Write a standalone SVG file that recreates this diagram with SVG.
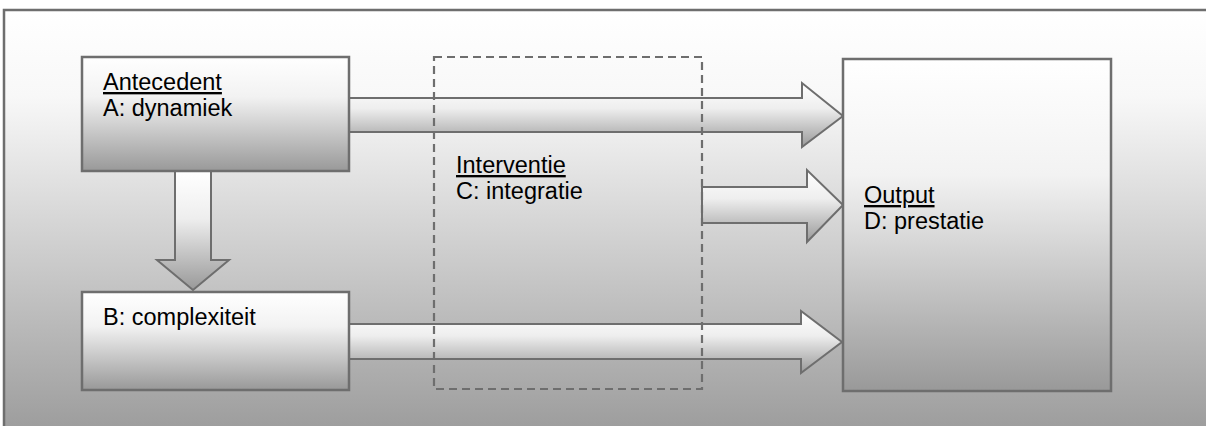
<svg xmlns="http://www.w3.org/2000/svg" width="1206" height="426" viewBox="0 0 1206 426">
<defs>
<linearGradient id="bg" x1="0" y1="0" x2="0" y2="1">
<stop offset="0" stop-color="#ffffff"/>
<stop offset="0.2" stop-color="#f8f8f8"/>
<stop offset="1" stop-color="#9a9a9a"/>
</linearGradient>
<linearGradient id="box" x1="0" y1="0" x2="0" y2="1">
<stop offset="0" stop-color="#ffffff"/>
<stop offset="0.35" stop-color="#f2f2f2"/>
<stop offset="1" stop-color="#999999"/>
</linearGradient>
<linearGradient id="arr" x1="0" y1="0" x2="0" y2="1">
<stop offset="0" stop-color="#ffffff"/>
<stop offset="0.4" stop-color="#eeeeee"/>
<stop offset="1" stop-color="#999999"/>
</linearGradient>
</defs>
<style>
.frame{fill:url(#bg);stroke:#6e6e6e;stroke-width:2.5}
.node{fill:url(#box);stroke:#6e6e6e;stroke-width:2.5}
.dash{fill:none;stroke:#6e6e6e;stroke-width:2.2;stroke-dasharray:8 5}
.arrow{fill:url(#arr);stroke:#6e6e6e;stroke-width:2}
text{font-family:"Liberation Sans",Arial,sans-serif;font-size:23.5px;fill:#000}
.u{text-decoration:underline}
</style>
<rect class="frame" x="4" y="10" width="1214" height="430"/>
<g id="connectors">
<polygon class="arrow" points="349,98 802,98 802,83 843,116 802,147 802,132 349,132"/>
<polygon class="arrow" points="702,187 807,187 807,170 843,205 807,242 807,223 702,223"/>
<polygon class="arrow" points="349,324 801,324 801,311 842,342 801,373 801,359 349,359"/>
<polygon class="arrow" points="175,171 211,171 211,260 229,260 193,290 157,260 175,260"/>
</g>
<g id="antecedent">
<rect class="node" x="82" y="57" width="267" height="114"/>
<text x="103" y="90" class="u">Antecedent</text>
<text x="103" y="116">A: dynamiek</text>
</g>
<g id="complexiteit">
<rect class="node" x="82" y="292" width="267" height="98"/>
<text x="103" y="325">B: complexiteit</text>
</g>
<g id="interventie">
<rect class="dash" x="434" y="57" width="268" height="332"/>
<text x="456" y="173" class="u">Interventie</text>
<text x="456" y="199">C: integratie</text>
</g>
<g id="output">
<rect class="node" x="843" y="59" width="268" height="332"/>
<text x="864" y="203" class="u">Output</text>
<text x="864" y="229">D: prestatie</text>
</g>
</svg>
